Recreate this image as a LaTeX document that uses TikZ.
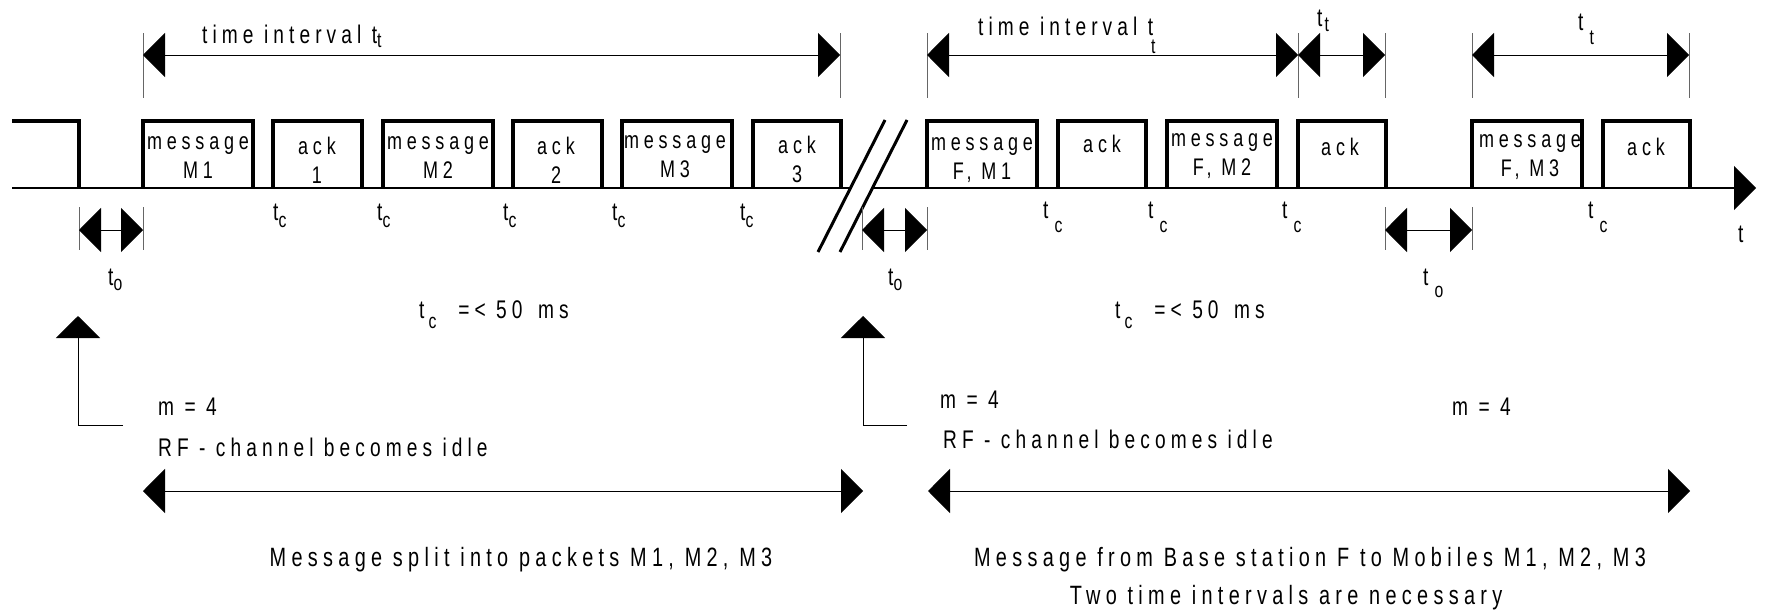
\documentclass[tikz,border=0pt]{standalone}
\usepackage{fontspec}
\setmainfont{Liberation Sans}[FakeStretch=0.75,LetterSpace=20]
\usetikzlibrary{arrows.meta}

\newcommand{\lowsub}[3]{t\hspace{#1}\raisebox{-#2}{\fontsize{21}{21}\selectfont #3}}

\tikzset{
  pulse/.style={line width=3.3pt, line join=miter},
  axisline/.style={line width=1.6pt},
  tickline/.style={line width=0.8pt, black!60},
  dim/.style={line width=1pt, {Triangle[length=22pt,width=44pt]}-{Triangle[length=22pt,width=44pt]}},
  uparrow/.style={line width=1pt, -{Triangle[length=22pt,width=44pt]}},
  lbl/.style={font=\fontsize{25.5}{28}\selectfont, inner sep=0pt},
  boxtxt/.style={font=\fontsize{24}{29}\selectfont, align=center, inner sep=0pt},
  big/.style={font=\fontsize{26.5}{30}\selectfont, inner sep=0pt}
}

\begin{document}
\begin{tikzpicture}[x=1pt,y=-1pt]
    \useasboundingbox (0,0) rectangle (1766,613);
    % time axis with break
    \path (12,188) coordinate (ax0) (850,188) coordinate (ax1)
          (872,188) coordinate (ax2) (1756,188) coordinate (ax3);
    \draw[axisline] (ax0)--(ax1);
    \draw[axisline, -{Triangle[length=22pt,width=44pt]}] (ax2)--(ax3);
    \node[lbl, anchor=base west] (tlabel) at (1738,242) {t};
    \draw[line width=3pt] (818,252)--(885,120);
    \draw[line width=3pt] (840,252)--(907,120);
    %
    % pulses
    \draw[pulse] (12,121)--(79,121)--(79,188);
    \foreach \xa/\xb in {143/253, 273/362, 383/493, 513/602, 622/732, 753/841,
                         927/1037, 1058/1146, 1167/1277, 1298/1386, 1472/1582, 1603/1690}
      \draw[pulse] (\xa,188)--(\xa,121)--(\xb,121)--(\xb,188);
    %
    \node[boxtxt] (p1) at (198,158) {message\\M1};
    \node[boxtxt] (p2) at (317,160) {ack\\1};
    \node[boxtxt] (p3) at (438,158) {message\\M2};
    \node[boxtxt] (p4) at (556,160) {ack\\2};
    \node[boxtxt] (p5) at (675,157) {message\\M3};
    \node[boxtxt] (p6) at (797,159) {ack\\3};
    \node[boxtxt] (p7) at (982,160) {message\\F, M1};
    \node[boxtxt, anchor=base] (p8) at (1102,152) {ack};
    \node[boxtxt] (p9) at (1222,156) {message\\F, M2};
    \node[boxtxt, anchor=base] (p10) at (1340,155) {ack};
    \node[boxtxt] (p11) at (1530,157) {message\\F, M3};
    \node[boxtxt, anchor=base] (p12) at (1646,155) {ack};
    %
    % interval ticks
    \foreach \x [count=\i] in {143, 840, 927, 1298, 1385, 1472, 1689}
      \draw[tickline] (\x,33) coordinate (up\i) -- (\x,98) coordinate (lo\i);
    \foreach \x in {79, 143, 862, 927, 1385, 1472}
      \draw[tickline] (\x,207)--(\x,250);
    %
    % dimension arrows
    \path (143,55) coordinate (i1a) (840,55) coordinate (i1b)
          (927,55) coordinate (i2a) (1298,55) coordinate (i2b)
          (1385,55) coordinate (i3b)
          (1472,55) coordinate (i4a) (1689,55) coordinate (i4b)
          (79,230) coordinate (o1a) (143,230) coordinate (o1b)
          (862,230) coordinate (o2a) (927,230) coordinate (o2b)
          (1385,230) coordinate (o3a) (1472,230) coordinate (o3b)
          (143,491) coordinate (b1a) (863,491) coordinate (b1b)
          (928,491) coordinate (b2a) (1690,491) coordinate (b2b);
    \draw[dim] (i1a)--(i1b);
    \draw[dim] (i2a)--(i2b);
    \draw[dim] (i2b)--(i3b);
    \draw[dim] (i4a)--(i4b);
    \draw[dim] (o1a)--(o1b);
    \draw[dim] (o2a)--(o2b);
    \draw[dim] (o3a)--(o3b);
    \draw[dim] (b1a)--(b1b);
    \draw[dim] (b2a)--(b2b);
    %
    \node[lbl, anchor=base west] (int1) at (202,43) {time interval \lowsub{0pt}{4pt}{t}};
    \node[lbl, anchor=base west] (int2) at (978,35) {time interval t};
    \node[lbl, anchor=base west, font=\fontsize{21}{21}\selectfont] (int2s) at (1151,53) {t};
    \node[lbl, anchor=base west] (int3) at (1317,27) {\lowsub{2pt}{5pt}{t}};
    \node[lbl, anchor=base west] (int4) at (1578,30) {\lowsub{6pt}{14pt}{t}};
    %
    \foreach \x [count=\i] in {273, 377, 503, 612, 740}
      \node[lbl, anchor=base west] (tcl\i) at (\x,220) {\lowsub{0pt}{7pt}{c}};
    \foreach \x [count=\i] in {1043, 1148, 1282, 1588}
      \node[lbl, anchor=base west] (tcr\i) at (\x,218) {\lowsub{6pt}{14pt}{c}};
    \node[lbl, anchor=base west] (to1) at (108,285) {\lowsub{0pt}{5pt}{o}};
    \node[lbl, anchor=base west] (to2) at (888,285) {\lowsub{0pt}{5pt}{o}};
    \node[lbl, anchor=base west] (to3) at (1423,285) {\lowsub{6pt}{12pt}{o}};
    %
    \node[lbl, anchor=base west] (lim1) at (419,318) {\lowsub{4pt}{10pt}{c}\hspace{22pt}=< 50\hspace{5pt} ms};
    \node[lbl, anchor=base west] (lim2) at (1115,318) {\lowsub{4pt}{10pt}{c}\hspace{22pt}=< 50\hspace{5pt} ms};
    %
    % channel idle markers
    \path (123,425) coordinate (k1a) (78,425) coordinate (k1b) (78,316) coordinate (k1c)
          (907,425) coordinate (k2a) (863,425) coordinate (k2b) (863,316) coordinate (k2c);
    \draw[uparrow] (k1a)--(k1b)--(k1c);
    \draw[uparrow] (k2a)--(k2b)--(k2c);
    %
    \node[lbl, anchor=base west] (m1) at (158,415) {m = 4};
    \node[lbl, anchor=base west] (rf1) at (158,456) {RF - channel becomes idle};
    \node[lbl, anchor=base west] (m2) at (940,408) {m = 4};
    \node[lbl, anchor=base west] (rf2) at (943,448) {RF - channel becomes idle};
    \node[lbl, anchor=base west] (m3) at (1452,415) {m = 4};
    %
    \node[big, anchor=base] (cap1) at (521,566) {Message split into packets M1, M2, M3};
    \node[big, anchor=base] (cap2) at (1310,566) {Message from Base station F to Mobiles M1, M2, M3};
    \node[big, anchor=base] (cap3) at (1286,604) {Two time intervals are necessary};
\end{tikzpicture}
\end{document}
